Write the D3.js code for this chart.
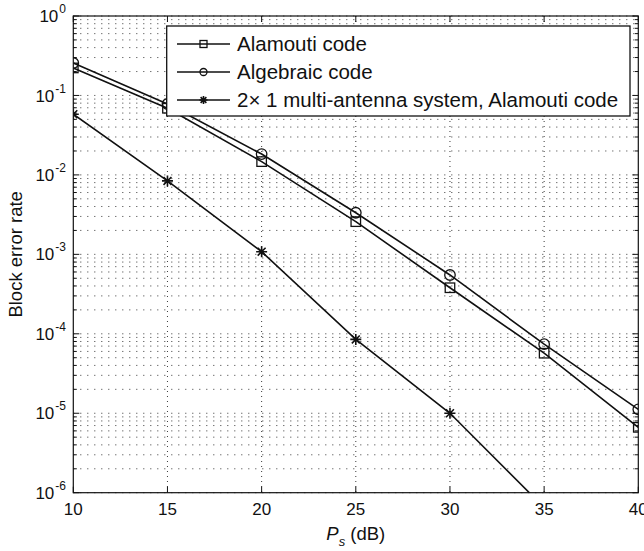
<!DOCTYPE html>
<html><head><meta charset="utf-8">
<script src="https://cdn.jsdelivr.net/npm/d3@7"></script>
<style>
body{margin:0;background:#fff;}
svg{display:block;font-family:"Liberation Sans",Arial,Helvetica,sans-serif;}
</style></head>
<body><svg id="c" width="644" height="551"></svg>
<script>
const snr = [10, 15, 20, 25, 30, 35, 40];
const alamouti = [0.222, 0.069, 0.0147, 2.58e-3, 3.8e-4, 5.7e-5, 6.65e-6];
const algebraic = [0.256, 0.078, 0.0183, 3.34e-3, 5.5e-4, 7.4e-5, 1.12e-5];
const snrMulti = [10, 15, 20, 25, 30, 35];
const multi = [0.058, 8.4e-3, 1.08e-3, 8.5e-5, 1.0e-5, 6.5e-7];
const xTicks = [10, 15, 20, 25, 30, 35, 40];
const yExps = [0, -1, -2, -3, -4, -5, -6];
const seriesNames = ["Alamouti code", "Algebraic code", "2\u00d7 1 multi-antenna system, Alamouti code"];

const svg = d3.select("#c");
const L = 73.3, R = 638.3, T = 16, B = 492.7;
const x = d3.scaleLinear().domain([10, 40]).range([L, R]);
const y = d3.scaleLog().domain([1e-6, 1]).range([B, T]);

// gridlines
const grid = svg.append("g").attr("stroke", "#222").attr("stroke-width", 0.9)
  .attr("stroke-dasharray", "1,6").attr("fill", "none");
const minorVals = [];
for (let e = -6; e < 0; e++) for (let m = 1; m <= 9; m++) minorVals.push(m * Math.pow(10, e));
minorVals.push(1);
grid.selectAll("line.h").data(minorVals).join("line").attr("class", "h")
  .attr("x1", L).attr("x2", R).attr("y1", d => y(d)).attr("y2", d => y(d));
grid.selectAll("line.v").data(xTicks.slice(1, -1)).join("line").attr("class", "v")
  .attr("y1", T).attr("y2", B).attr("x1", d => x(d)).attr("x2", d => x(d))
  .attr("stroke-dasharray", "1,4");

// data
svg.append("clipPath").attr("id", "clip").append("rect")
  .attr("x", L).attr("y", T).attr("width", R - L).attr("height", B - T);
const plot = svg.append("g").attr("clip-path", "url(#clip)");
const line = d3.line().x(d => x(d[0])).y(d => y(d[1]));
const series = [
  {xs: snr, ys: alamouti, m: "square"},
  {xs: snr, ys: algebraic, m: "circle"},
  {xs: snrMulti, ys: multi, m: "star"}
];
function marker(g, type, cx, cy, s) {
  if (type === "square") {
    g.append("rect").attr("x", cx - s / 2).attr("y", cy - s / 2).attr("width", s).attr("height", s)
      .attr("fill", "none").attr("stroke", "#111").attr("stroke-width", 1.3);
  } else if (type === "circle") {
    g.append("circle").attr("cx", cx).attr("cy", cy).attr("r", s / 2)
      .attr("fill", "none").attr("stroke", "#111").attr("stroke-width", 1.3);
  } else {
    const r = s / 2, d = r * 0.72;
    const p = `M${cx - r},${cy}L${cx + r},${cy}M${cx},${cy - r}L${cx},${cy + r}` +
      `M${cx - d},${cy - d}L${cx + d},${cy + d}M${cx - d},${cy + d}L${cx + d},${cy - d}`;
    g.append("path").attr("d", p).attr("stroke", "#111").attr("stroke-width", 1.6).attr("fill", "none");
  }
}
series.forEach(s => {
  const pts = s.xs.map((v, i) => [v, s.ys[i]]);
  plot.append("path").attr("d", line(pts)).attr("fill", "none").attr("stroke", "#111").attr("stroke-width", 1.6);
  pts.forEach(p => marker(plot, s.m, x(p[0]), y(p[1]), s.m === "circle" ? 10.5 : (s.m === "square" ? 9.5 : 11)));
});

// axes box and ticks
const ax = svg.append("g").attr("stroke", "#111").attr("fill", "none");
ax.append("rect").attr("x", L).attr("y", T).attr("width", R - L).attr("height", B - T).attr("stroke-width", 1.2);
minorVals.forEach(v => {
  const major = Math.abs(Math.log10(v) - Math.round(Math.log10(v))) < 1e-9;
  const len = major ? 6 : 3.5;
  ax.append("line").attr("x1", L).attr("x2", L + len).attr("y1", y(v)).attr("y2", y(v)).attr("stroke-width", 1);
  ax.append("line").attr("x1", R).attr("x2", R - len).attr("y1", y(v)).attr("y2", y(v)).attr("stroke-width", 1);
});
xTicks.forEach(v => {
  ax.append("line").attr("x1", x(v)).attr("x2", x(v)).attr("y1", B).attr("y2", B - 6).attr("stroke-width", 1);
  ax.append("line").attr("x1", x(v)).attr("x2", x(v)).attr("y1", T).attr("y2", T + 6).attr("stroke-width", 1);
});

// tick labels
const lab = svg.append("g").attr("fill", "#111").attr("font-size", 17);
xTicks.forEach(v => {
  lab.append("text").attr("x", x(v)).attr("y", 515).attr("text-anchor", "middle").text(v);
});
yExps.forEach(e => {
  const t = lab.append("text").attr("x", 66).attr("y", y(Math.pow(10, e))).attr("dy", "0.36em")
    .attr("text-anchor", "end");
  t.append("tspan").text("10");
  t.append("tspan").attr("font-size", 12).attr("dy", "-0.75em").attr("dx", "1").text(e === 0 ? "0" : String(e));
});

// axis titles
const xl = svg.append("text").attr("x", (L + R) / 2).attr("y", 540).attr("text-anchor", "middle")
  .attr("font-size", 18.5).attr("fill", "#111");
xl.append("tspan").attr("font-style", "italic").text("P");
xl.append("tspan").attr("font-style", "italic").attr("font-size", 13).attr("dy", 6).text("s");
xl.append("tspan").attr("dy", -6).text(" (dB)");
svg.append("text").attr("transform", `translate(22,${(T + B) / 2}) rotate(-90)`)
  .attr("text-anchor", "middle").attr("font-size", 18.5).attr("fill", "#111").text("Block error rate");

// legend
const lg = svg.append("g");
lg.append("rect").attr("x", 166.7).attr("y", 26).attr("width", 630 - 166.7).attr("height", 90)
  .attr("fill", "#fff").attr("stroke", "#111").attr("stroke-width", 1.3);
const ly = [44, 72, 100];
["square", "circle", "star"].forEach((m, i) => {
  lg.append("line").attr("x1", 177).attr("x2", 230).attr("y1", ly[i]).attr("y2", ly[i])
    .attr("stroke", "#111").attr("stroke-width", 1.6);
  marker(lg, m, 203.5, ly[i], m === "star" ? 8 : 7);
  lg.append("text").attr("x", 237).attr("y", ly[i]).attr("dy", "0.36em").attr("font-size", 20.5)
    .attr("fill", "#111").text(seriesNames[i]);
});
</script></body></html>
